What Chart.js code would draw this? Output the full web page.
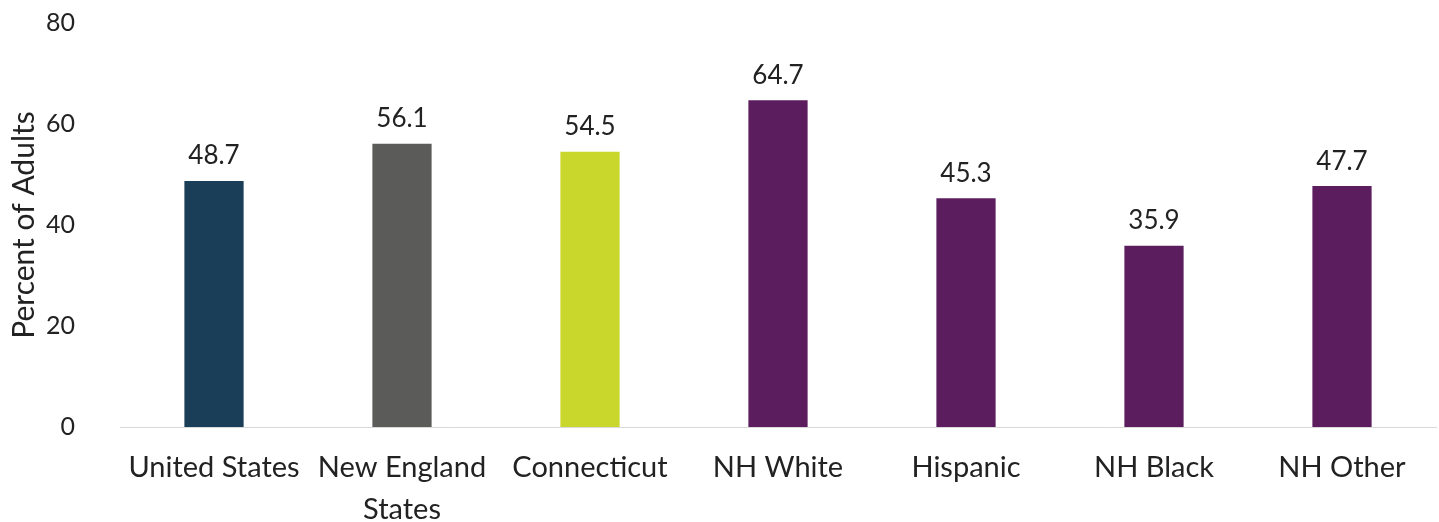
<!DOCTYPE html>
<html>
<head>
<meta charset="utf-8">
<script src="https://cdn.jsdelivr.net/npm/chart.js@4.4.1/dist/chart.umd.min.js"></script>
<style>
  html, body { margin: 0; padding: 0; background: #fff; }
  #wrap { width: 1439px; height: 522px; }
</style>
</head>
<body>
<div id="wrap"><canvas id="grafico"></canvas></div>
<script>
// categorías y valores
const categorias = ['United States', ['New England', 'States'], 'Connecticut', 'NH White', 'Hispanic', 'NH Black', 'NH Other'];
const valores = [48.7, 56.1, 54.5, 64.7, 45.3, 35.9, 47.7];
const colores = ['#1a3d58', '#5b5b59', '#c9d62b', '#5c1d5f', '#5c1d5f', '#5c1d5f', '#5c1d5f'];
const ticksY = [0, 20, 40, 60, 80];

const fuente = "Lato, 'Open Sans', sans-serif";

// etiquetas de valor encima de cada barra
const etiquetasValor = {
    id: 'etiquetasValor',
    afterDatasetsDraw(chart) {
        const ctx = chart.ctx;
        const meta = chart.getDatasetMeta(0);
        ctx.save();
        ctx.font = '26px ' + fuente;
        ctx.fillStyle = '#222';
        ctx.textAlign = 'center';
        ctx.textBaseline = 'bottom';
        meta.data.forEach((barra, i) => {
            ctx.fillText(valores[i].toFixed(1), barra.x, barra.y - 12);
        });
        ctx.restore();
    }
};

const ctx = document.getElementById('grafico').getContext('2d');
new Chart(ctx, {
    type: 'bar',
    data: {
        labels: categorias,
        datasets: [{
            data: valores,
            backgroundColor: colores,
            borderWidth: 0,
            barPercentage: 0.315,
            categoryPercentage: 1
        }]
    },
    options: {
        responsive: true,
        maintainAspectRatio: false,
        animation: false,
        layout: { padding: { top: 0, right: 3, left: 6, bottom: 0 } },
        plugins: {
            legend: { display: false },
            tooltip: { enabled: false }
        },
        scales: {
            x: {
                grid: { display: false },
                border: { color: '#d9d9d9', width: 1 },
                ticks: {
                    color: '#222',
                    font: { family: fuente, size: 29, lineHeight: 1.45 },
                    padding: 12,
                    maxRotation: 0,
                    autoSkip: false
                },
                afterFit(escala) { escala.height = 95; }
            },
            y: {
                min: 0,
                max: 80,
                afterBuildTicks(escala) {
                    escala.ticks = ticksY.map(v => ({ value: v }));
                },
                grid: { display: false },
                border: { display: false },
                ticks: {
                    color: '#222',
                    font: { family: fuente, size: 25 },
                    padding: 37
                },
                title: {
                    display: true,
                    text: 'Percent of Adults',
                    color: '#222',
                    font: { family: fuente, size: 30 },
                    padding: { top: 0, bottom: 2 }
                },
                afterFit(escala) {
                    escala.width = 114;
                    escala.paddingTop = 23;
                    escala.paddingBottom = 0;
                }
            }
        }
    },
    plugins: [etiquetasValor]
});
</script>
</body>
</html>
